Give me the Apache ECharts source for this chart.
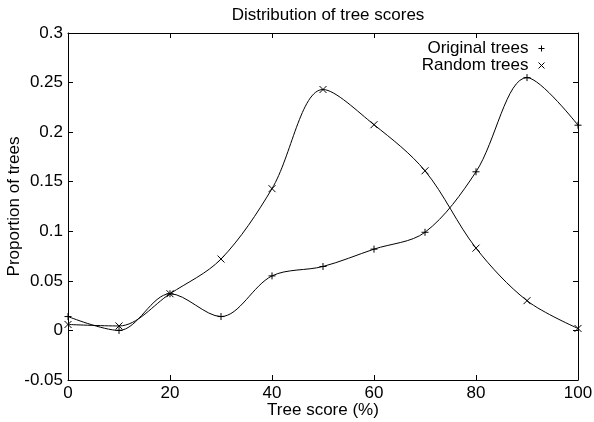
<!DOCTYPE html>
<html>
<head>
<meta charset="utf-8">
<script src="https://cdn.jsdelivr.net/npm/echarts@6/dist/echarts.min.js"></script>
<style>
  html, body { margin: 0; padding: 0; background: #fff; }
  #chart { width: 594px; height: 422px; }
</style>
</head>
<body>
<div id="chart"></div>
<script>
// tree score (%) on the x axis
const scores = [0, 10, 20, 30, 40, 50, 60, 70, 80, 90, 100]
// proportion of trees per score
const originalTrees = [0.014, 0.0, 0.037, 0.014, 0.055, 0.0645, 0.082, 0.099, 0.160, 0.255, 0.207]
const randomTrees = [0.006, 0.0045, 0.037, 0.072, 0.143, 0.243, 0.2075, 0.161, 0.083, 0.030, 0.002]

const PLUS = 'path://M5,0 L5,10 M0,5 L10,5'
const CROSS = 'path://M0,0 L10,10 M10,0 L0,10'
const FONT = 'Liberation Sans, Arial, sans-serif'
const FS = 17

function pairs (ys) {
  return scores.map((x, i) => [x, ys[i]])
}

const chart = echarts.init(document.getElementById('chart'))

const markStyle = { color: 'transparent', borderColor: '#000', borderWidth: 1 }
const frameLine = { show: true, onZero: false, lineStyle: { color: '#000', width: 1 } }
const tick = { show: true, inside: true, length: 5, lineStyle: { color: '#000' } }
const label = { fontFamily: FONT, fontSize: FS, color: '#000', margin: 5 }

const option = {
  animation: false,
  backgroundColor: '#fff',
  title: {
    text: 'Distribution of tree scores',
    left: 323,
    top: 2,
    textAlign: 'center',
    textStyle: { fontFamily: FONT, fontSize: FS, fontWeight: 'normal', color: '#000' }
  },
  legend: {
    orient: 'vertical',
    right: 44,
    top: 35,
    align: 'right',
    itemGap: 0,
    itemWidth: 6,
    itemHeight: 6,
    itemStyle: { color: 'transparent', borderColor: '#000', borderWidth: 1 },
    textStyle: { fontFamily: FONT, fontSize: FS, color: '#000', padding: [0, 5, 0, 0] },
    data: [
      { name: 'Original trees', icon: PLUS },
      { name: 'Random trees', icon: CROSS }
    ]
  },
  grid: { left: 68, right: 16, top: 33, bottom: 42, outerBoundsMode: 'none' },
  xAxis: [
    {
      type: 'value',
      min: 0,
      max: 100,
      interval: 20,
      name: 'Tree score (%)',
      nameLocation: 'middle',
      nameGap: 22,
      nameMoveOverlap: false,
      nameTextStyle: { fontFamily: FONT, fontSize: FS, color: '#000' },
      axisLine: frameLine,
      axisTick: tick,
      axisLabel: label,
      splitLine: { show: false }
    },
    {
      type: 'value',
      position: 'top',
      min: 0,
      max: 100,
      interval: 20,
      axisLine: frameLine,
      axisTick: tick,
      axisLabel: { show: false },
      splitLine: { show: false }
    }
  ],
  yAxis: [
    {
      type: 'value',
      min: -0.05,
      max: 0.3,
      interval: 0.05,
      name: 'Proportion of trees',
      nameLocation: 'middle',
      nameGap: 45,
      nameMoveOverlap: false,
      nameTextStyle: { fontFamily: FONT, fontSize: FS, color: '#000' },
      axisLine: frameLine,
      axisTick: tick,
      axisLabel: label,
      splitLine: { show: false }
    },
    {
      type: 'value',
      position: 'right',
      min: -0.05,
      max: 0.3,
      interval: 0.05,
      axisLine: frameLine,
      axisTick: tick,
      axisLabel: { show: false },
      splitLine: { show: false }
    }
  ],
  series: [
    {
      name: 'Original trees',
      type: 'line',
      smooth: 0.33,
      data: pairs(originalTrees),
      symbol: PLUS,
      symbolSize: 7,
      showAllSymbol: true,
      lineStyle: { color: '#000', width: 1 },
      itemStyle: markStyle
    },
    {
      name: 'Random trees',
      type: 'line',
      smooth: 0.33,
      data: pairs(randomTrees),
      symbol: CROSS,
      symbolSize: 7,
      showAllSymbol: true,
      lineStyle: { color: '#000', width: 1 },
      itemStyle: markStyle
    }
  ]
}

chart.setOption(option)
</script>
</body>
</html>
